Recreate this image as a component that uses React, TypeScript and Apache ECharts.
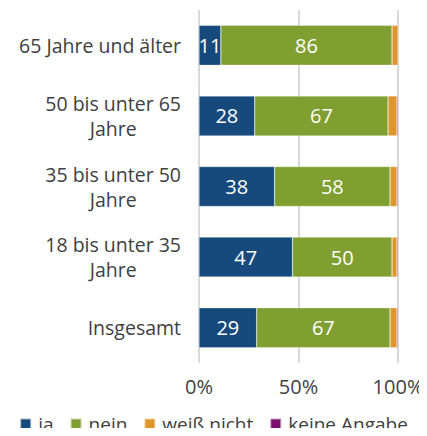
import React, { useEffect, useRef } from "react";
import * as echarts from "echarts";

const categories = [
  "Insgesamt",
  "18 bis unter 35\nJahre",
  "35 bis unter 50\nJahre",
  "50 bis unter 65\nJahre",
  "65 Jahre und älter",
];
const ja = [29, 47, 38, 28, 11];
const nein = [67, 50, 58, 67, 86];
const weissNicht = [3.5, 2.5, 3.5, 4.5, 3];
const keineAngabe = [0.5, 0.5, 0.5, 0.5, 0.3];
const xTicks = [0, 50, 100];

const FONT = "'Open Sans', 'Noto Sans', sans-serif";
const TEXT = "#404040";

export default function App() {
  const ref = useRef<HTMLDivElement>(null);
  useEffect(() => {
    if (!ref.current) return;
    const chart = echarts.init(ref.current, undefined, { renderer: "svg" });
    const mk = (name: string, data: number[], color: string, label: boolean) => ({
      name,
      type: "bar",
      stack: "total",
      data,
      barWidth: 40,
      itemStyle: { color, borderColor: "rgba(255,255,255,0.6)", borderWidth: 0.5 },
      label: {
        show: label,
        position: "inside",
        color: "#fff",
        fontFamily: FONT,
        fontSize: 20,
      },
      emphasis: { disabled: true },
    });
    chart.setOption({
      animation: false,
      textStyle: { fontFamily: FONT },
      grid: { left: 199, right: 29, top: 10, bottom: 73, containLabel: false },
      xAxis: {
        type: "value",
        min: xTicks[0],
        max: xTicks[xTicks.length - 1],
        interval: 50,
        axisLine: { show: false },
        axisTick: { show: false },
        splitLine: { show: true, lineStyle: { color: "#d9d9d9", width: 2 } },
        axisLabel: {
          formatter: (v: number) => `${v}%`,
          color: TEXT,
          fontSize: 20,
          fontFamily: FONT,
          margin: 13,
        },
      },
      yAxis: {
        type: "category",
        data: categories,
        axisLine: { show: false },
        axisTick: { show: false },
        axisLabel: {
          color: TEXT,
          fontSize: 19.5,
          fontFamily: FONT,
          margin: 18,
          lineHeight: 25,
          formatter: (v: string) =>
            v
              .split("\n")
              .map((l) => `{c|${l}}`)
              .join("\n"),
          rich: {
            c: {
              align: "center",
              color: TEXT,
              fontSize: 19.5,
              fontFamily: FONT,
              lineHeight: 25,
            },
          },
        },
      },
      legend: {
        top: 414,
        left: "center",
        padding: 0,
        itemWidth: 11,
        itemHeight: 11,
        itemGap: 16,
        icon: "rect",
        textStyle: { color: TEXT, fontSize: 19, fontFamily: FONT, lineHeight: 20, padding: [0, 0, 0, 2] },
        data: ["ja", "nein", "weiß nicht", "keine Angabe"],
      },
      series: [
        mk("ja", ja, "#174a7c", true),
        mk("nein", nein, "#7fa030", true),
        mk("weiß nicht", weissNicht, "#de952b", false),
        mk("keine Angabe", keineAngabe, "#7b0f6e", false),
      ],
    });
    return () => chart.dispose();
  }, []);
  return <div ref={ref} style={{ width: 427, height: 436, margin: -8 }} />;
}
